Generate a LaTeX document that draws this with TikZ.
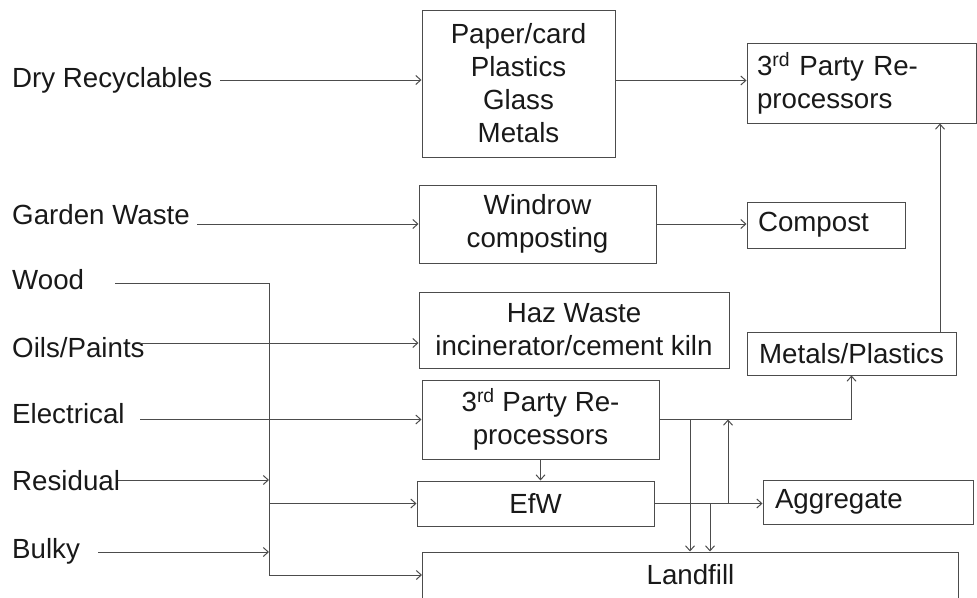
\documentclass[tikz,border=0pt]{standalone}
\usepackage{fontspec}
\setmainfont{Liberation Sans}
\usetikzlibrary{arrows.meta}
\tikzset{
  >={Straight Barb[length=5pt,width=9pt]},
  flujo/.style={->, line width=1pt, draw=black!70},
  caja/.style={draw=black!70, line width=1pt, inner sep=0pt, align=center, text=black!90},
  cajaizq/.style={caja, align=left, inner xsep=10pt},
  etiq/.style={anchor=base west, inner sep=0pt, text=black!90},
}

\begin{document}
\begin{tikzpicture}[x=1pt, y=-1pt, font=\fontsize{27.7pt}{33pt}\selectfont]
  \useasboundingbox (0,0) rectangle (977,597);
  % sources
  \node[etiq] (dry) at (12,87) {Dry Recyclables};
  \node[etiq] (garden) at (12,224) {Garden Waste};
  \node[etiq] (wood) at (12,289) {Wood};
  \node[etiq] (oils) at (12,357) {Oils/Paints};
  \node[etiq] (elec) at (12,423) {Electrical};
  \node[etiq] (resid) at (12,490) {Residual};
  \node[etiq] (bulky) at (12,558) {Bulky};
  % boxes
  \node[caja, minimum width=193, minimum height=147] (mrf) at (518.5,83.5)
    {Paper/card\\Plastics\\Glass\\Metals};
  \node[cajaizq, text width=209, minimum height=80] (reproTop) at (861.5,83)
    {3\textsuperscript{rd} Party Re-\\processors};
  \node[caja, minimum width=237, minimum height=78] (windrow) at (537.5,224)
    {Windrow\\composting};
  \node[cajaizq, inner xsep=11, text width=136, minimum height=46] (compost) at (826,225)
    {Compost};
  \node[caja, minimum width=310, minimum height=76] (haz) at (574,330)
    {Haz Waste\\incinerator/cement kiln};
  \node[caja, minimum width=209, minimum height=43] (metpla) at (851.5,353.5)
    {Metals/Plastics};
  \node[caja, minimum width=237, minimum height=79] (reproMid) at (540.5,419.5)
    {3\textsuperscript{rd} Party Re-\\processors};
  \node[caja, minimum width=237, minimum height=45] (efw) at (535.5,503.5) {EfW};
  \node[cajaizq, inner xsep=12, text width=186, minimum height=44] (aggr) at (868,502)
    {Aggregate};
  \node[caja, minimum width=536, minimum height=46] (landfill) at (690.5,575) {Landfill};
  % line starts and junctions
  \coordinate (dryOut) at (220,80);
  \coordinate (gardenOut) at (197,224);
  \coordinate (woodOut) at (115,283);
  \coordinate (oilsOut) at (140,343);
  \coordinate (elecOut) at (140,419.5);
  \coordinate (residOut) at (118,480);
  \coordinate (bulkyOut) at (98,552);
  \coordinate (colector) at (269,0);
  \coordinate (rise) at (940,0);
  \coordinate (dropA) at (690,0);
  \coordinate (dropB) at (710,0);
  \coordinate (riseB) at (728,0);
  % flows
  \draw[flujo] (dryOut) -- (dryOut -| mrf.west);
  \draw[flujo] ([yshift=3pt]mrf.east) -- ([yshift=3pt]mrf.east -| reproTop.west);
  \draw[flujo] (gardenOut) -- (gardenOut -| windrow.west);
  \draw[flujo] (windrow.east) -- (windrow.east -| compost.west);
  \draw[flujo] (woodOut) -- (woodOut -| colector) |- (landfill.west);
  \draw[flujo] (oilsOut) -- (oilsOut -| haz.west);
  \draw[flujo] (elecOut) -- (elecOut -| reproMid.west);
  \draw[flujo] (residOut) -- (residOut -| colector);
  \draw[flujo] (colector |- efw.west) -- (efw.west);
  \draw[flujo] (bulkyOut) -- (bulkyOut -| colector);
  \draw[flujo] (reproMid.south) -- (reproMid.south |- efw.north);
  \draw[flujo] (reproMid.east) -| (metpla.south);
  \draw[flujo] (metpla.north -| rise) -- (rise |- reproTop.south);
  \draw[flujo] (efw.east) -- (efw.east -| aggr.west);
  \draw[flujo] (reproMid.east -| dropA) -- (dropA |- landfill.north);
  \draw[flujo] (efw.east -| dropB) -- (dropB |- landfill.north);
  \draw[flujo] (efw.east -| riseB) -- (riseB |- reproMid.east);
\end{tikzpicture}
\end{document}
